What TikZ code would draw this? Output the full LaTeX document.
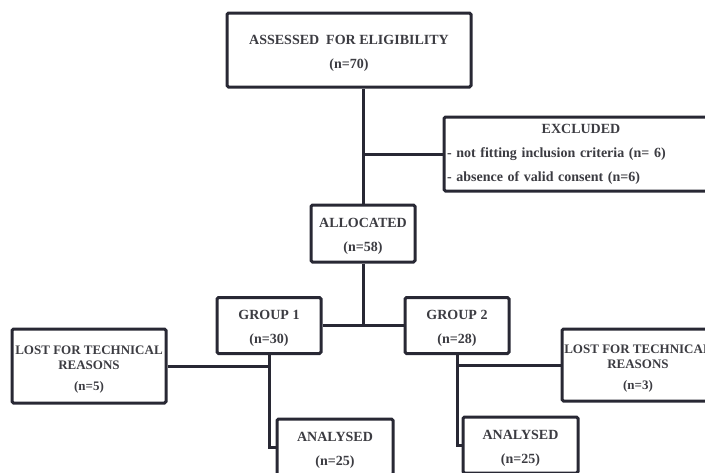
\documentclass[tikz,border=0pt]{standalone}
\usepackage{fontspec}
\setmainfont{Liberation Serif}
\usepackage{xcolor}
\usepackage{tikz}
\usetikzlibrary{positioning}

\definecolor{linegray}{RGB}{40,40,52}
\definecolor{textgray}{RGB}{60,60,66}
\newcommand{\topstrut}{\rule{0pt}{15pt}}

\begin{document}
\begin{tikzpicture}[
        x=1pt, y=-1pt,
        line width=3pt,
        draw=linegray,
        box/.style={draw=linegray, line width=3pt, rounded corners=1.5pt,
            fill=white, align=center, inner sep=2pt,
            text=textgray, font=\fontsize{14}{24}\selectfont\bfseries},
        lostbox/.style={box, font=\fontsize{13}{24}\selectfont\bfseries},
        link/.style={draw=linegray, line width=3pt}
    ]
    \useasboundingbox (0,0) rectangle (705,472);
    \clip (0,0) rectangle (705,472);

    \node[box, minimum width=244pt, minimum height=74pt] (assess) at (349,50)
        {\topstrut ASSESSED\ \ FOR ELIGIBILITY\\(n=70)};
    \node[box, minimum width=274pt, minimum height=74pt, align=left,
        text width=268pt] (excl) at (581,154)
        {\makebox[\linewidth]{EXCLUDED}\\- not fitting inclusion criteria (n= 6)\\- absence of valid consent (n=6)};
    \node[box, minimum width=104pt, minimum height=57pt] (alloc) at (363,233.5)
        {\topstrut ALLOCATED\\(n=58)};
    \node[box, minimum width=104pt, minimum height=56pt] (grpA) at (269,325.5)
        {\topstrut GROUP 1\\(n=30)};
    \node[box, minimum width=104pt, minimum height=56pt] (grpB) at (457,325.5)
        {\topstrut GROUP 2\\(n=28)};
    \node[lostbox, minimum width=154pt, minimum height=74pt] (lostA) at (89,366)
        {\topstrut LOST FOR TECHNICAL\\[-9pt]REASONS\\[-3pt](n=5)};
    \node[lostbox, minimum width=152pt, minimum height=72pt] (lostB) at (638,365)
        {\topstrut LOST FOR TECHNICAL\\[-9pt]REASONS\\[-3pt](n=3)};
    \node[box, minimum width=116pt, minimum height=56pt] (anaA) at (335,447)
        {\topstrut ANALYSED\\(n=25)};
    \node[box, minimum width=115pt, minimum height=56pt] (anaB) at (520.5,445)
        {\topstrut ANALYSED\\(n=25)};

    % assessed -> allocated, excluded branch
    \draw[link] (alloc.north) -- (alloc.north |- assess.south);
    \draw[link] (excl.west) -- (excl.west -| alloc.north);

    % allocated -> groups
    \draw[link] (alloc.south) -- (alloc.south |- grpA.east);
    \draw[link] (grpA.east) -- (grpB.west);

    % group 1
    \draw[link] (grpA.south) |- (anaA.west);
    \draw[link] (lostA.east) -- (lostA.east -| grpA.south);

    % group 2
    \draw[link] (grpB.south) |- (anaB.west);
    \draw[link] (lostB.west) -- (lostB.west -| grpB.south);
\end{tikzpicture}
\end{document}
